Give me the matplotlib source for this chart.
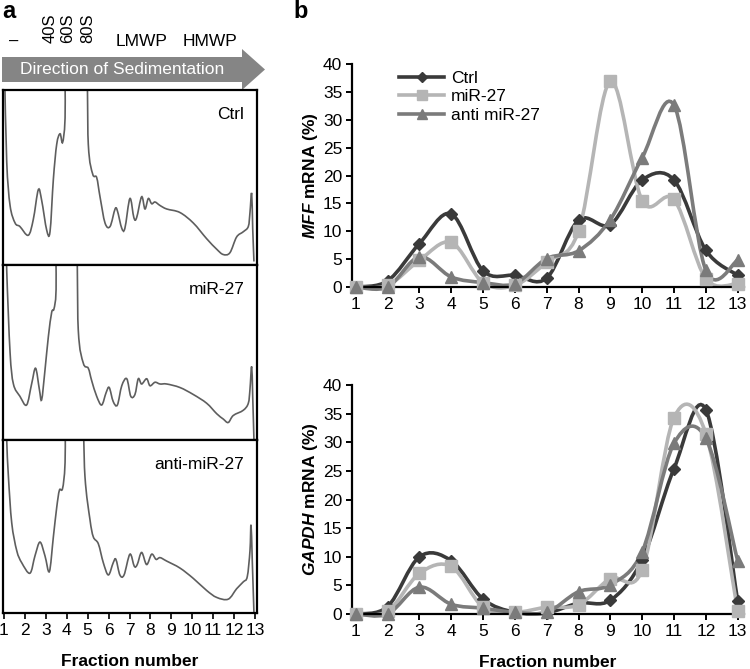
import numpy as np
import matplotlib
matplotlib.use("Agg")
import matplotlib.pyplot as plt
from matplotlib.path import Path
from matplotlib.patches import PathPatch, Polygon
from matplotlib.lines import Line2D

plt.rcParams['font.family'] = ['Liberation Sans', 'DejaVu Sans']
plt.rcParams['mathtext.fontset'] = 'custom'
plt.rcParams['mathtext.it'] = 'Liberation Sans:italic:bold'
plt.rcParams['mathtext.rm'] = 'Liberation Sans:bold'

# ---- panel a: polysome profiles (fraction position, relative absorbance) ----
ctrl_x = [1.03, 1.13, 1.29, 1.53, 1.76, 2.16, 2.40, 2.64, 2.80, 3.04, 3.20, 3.36, 3.52, 3.68, 3.80,
          3.92, 4.00, 4.87, 5.03, 5.24, 5.43, 5.59, 5.83, 6.07, 6.31, 6.42, 6.63, 6.78, 7.02, 7.21,
          7.34, 7.58, 7.74, 7.90, 8.06, 8.22, 8.46, 8.78, 9.41, 10.05, 10.69, 11.17, 11.48, 11.80,
          12.12, 12.44, 12.68, 12.76, 12.84, 12.89, 12.95]
ctrl_y = [1.10, 0.59, 0.34, 0.24, 0.22, 0.17, 0.26, 0.43, 0.37, 0.20, 0.19, 0.49, 0.69, 0.75, 0.70,
          0.84, 1.30, 1.30, 0.69, 0.52, 0.50, 0.39, 0.24, 0.22, 0.32, 0.31, 0.21, 0.21, 0.38, 0.27,
          0.27, 0.39, 0.32, 0.38, 0.35, 0.36, 0.34, 0.32, 0.30, 0.24, 0.15, 0.09, 0.06, 0.07,
          0.16, 0.19, 0.22, 0.30, 0.41, 0.21, 0.02]

mir_x = [1.10, 1.13, 1.29, 1.45, 1.76, 2.08, 2.32, 2.51, 2.69, 2.80, 2.96, 3.12, 3.28, 3.39, 3.49,
         3.55, 4.39, 4.55, 4.79, 5.03, 5.19, 5.43, 5.67, 5.88, 6.03, 6.22, 6.42, 6.63, 6.87, 7.06,
         7.26, 7.42, 7.58, 7.82, 7.98, 8.22, 8.46, 8.78, 9.41, 10.05, 10.69, 11.17, 11.48, 11.72,
         11.96, 12.44, 12.68, 12.76, 12.84, 12.89, 12.95]
mir_y = [1.20, 0.97, 0.50, 0.32, 0.25, 0.20, 0.32, 0.41, 0.29, 0.23, 0.40, 0.59, 0.73, 0.75, 0.86,
         1.30, 1.30, 0.63, 0.44, 0.41, 0.34, 0.25, 0.20, 0.27, 0.30, 0.22, 0.20, 0.31, 0.35, 0.25,
         0.26, 0.35, 0.32, 0.35, 0.31, 0.33, 0.32, 0.32, 0.30, 0.26, 0.21, 0.15, 0.12, 0.10,
         0.14, 0.17, 0.21, 0.29, 0.42, 0.25, 0.00]

anti_x = [1.10, 1.13, 1.21, 1.37, 1.61, 1.85, 2.24, 2.48, 2.72, 2.96, 3.17, 3.36, 3.52, 3.65, 3.80,
          3.92, 4.00, 4.68, 4.87, 5.11, 5.27, 5.51, 5.75, 5.99, 6.22, 6.35, 6.54, 6.74, 7.02, 7.23,
          7.37, 7.58, 7.82, 8.06, 8.27, 8.46, 8.78, 9.41, 10.05, 10.69, 11.17, 11.72, 12.12, 12.44,
          12.63, 12.76, 12.81, 12.87, 12.95]
anti_y = [1.20, 1.00, 0.79, 0.52, 0.36, 0.29, 0.23, 0.33, 0.41, 0.33, 0.24, 0.44, 0.61, 0.71, 0.72,
          0.87, 1.30, 1.30, 0.79, 0.54, 0.44, 0.40, 0.29, 0.22, 0.29, 0.31, 0.22, 0.22, 0.34, 0.27,
          0.28, 0.35, 0.28, 0.34, 0.31, 0.32, 0.30, 0.26, 0.20, 0.13, 0.09, 0.08, 0.14, 0.18,
          0.21, 0.36, 0.51, 0.30, 0.00]

profile_names = ['Ctrl', 'miR-27', 'anti-miR-27']
top_labels = ['–', '40S', '60S', '80S', 'LMWP', 'HMWP']

# ---- panel b: qPCR distribution across fractions ----
fractions = list(range(1, 14))
series_names = ['Ctrl', 'miR-27', 'anti miR-27']
mff_ctrl = [0, 1.1, 7.8, 13.1, 2.9, 2.1, 1.6, 12.0, 11.2, 19.2, 19.2, 6.6, 2.1]
mff_mir = [0, 0.3, 4.8, 8.0, 0.8, 0.3, 4.5, 10.0, 36.9, 15.5, 15.7, 1.5, 0.6]
mff_anti = [0, 0, 5.4, 1.8, 0.8, 0.6, 5.1, 6.5, 12.1, 23.2, 32.6, 3.0, 4.8]
gapdh_ctrl = [0, 1.3, 10.0, 9.3, 2.6, 0.3, 0.2, 1.9, 2.4, 9.5, 25.4, 35.7, 2.3]
gapdh_mir = [0, 0.5, 7.1, 8.3, 1.2, 0.3, 1.2, 1.6, 6.2, 7.7, 34.3, 31.5, 0.5]
gapdh_anti = [0, 0, 4.7, 1.7, 1.0, 0.3, 0.3, 3.9, 5.1, 10.9, 29.8, 30.7, 9.3]

colors = ['#3a3a3a', '#b5b5b5', '#7b7b7b']
markers = ['D', 's', '^']
msizes = [6, 8, 8]

W, H = 750, 669
fig = plt.figure(figsize=(7.5, 6.69), dpi=100)


def px_axes(left, top, right, bottom):
    return fig.add_axes([left / W, 1 - bottom / H, (right - left) / W, (bottom - top) / H])


def smooth_path(xs, ys):
    # Catmull-Rom style smoothing drawn as cubic Bezier segments through the data points
    pts = np.column_stack([xs, ys]).astype(float)
    verts = [pts[0]]
    codes = [Path.MOVETO]
    n = len(pts)
    for k in range(n - 1):
        p0 = pts[k - 1] if k > 0 else pts[k]
        p1, p2 = pts[k], pts[k + 1]
        p3 = pts[k + 2] if k + 2 < n else pts[k + 1]
        verts += [p1 + (p2 - p0) / 6, p2 - (p3 - p1) / 6, p2]
        codes += [Path.CURVE4] * 3
    return Path(verts, codes)


# overlay in pixel coordinates for decorations
deco = fig.add_axes([0, 0, 1, 1], zorder=-1)
deco.set_xlim(0, W)
deco.set_ylim(H, 0)
deco.axis('off')

deco.text(2, 11, 'a', fontsize=17, fontweight='bold', va='center', ha='left')
deco.text(293, 11, 'b', fontsize=17, fontweight='bold', va='center', ha='left')

arrow = Polygon([[2, 57], [242, 57], [242, 49], [265, 69.5], [242, 90], [242, 82], [2, 82]],
                closed=True, facecolor='#858585', edgecolor='none')
deco.add_patch(arrow)
deco.text(122, 70, 'Direction of Sedimentation', color='white', fontsize=12.5,
          ha='center', va='center')

deco.text(14, 41, top_labels[0], fontsize=12, ha='center', va='center')
for lab, x in zip(top_labels[1:4], [50, 68, 88]):
    deco.text(x, 28, lab, fontsize=12, rotation=90, ha='center', va='center')
deco.text(142, 42, top_labels[4], fontsize=12.5, ha='center', va='center')
deco.text(210, 42, top_labels[5], fontsize=12.5, ha='center', va='center')

# ---- panel a axes ----
traces = [(ctrl_x, ctrl_y), (mir_x, mir_y), (anti_x, anti_y)]
bands = [(90, 265), (265, 440), (440, 613)]
for i, ((tx, ty), (t, b), name) in enumerate(zip(traces, bands, profile_names)):
    ax = px_axes(3, t, 257, b)
    ax.add_patch(PathPatch(smooth_path(tx, ty), facecolor='none', edgecolor='#5e5e5e',
                           linewidth=1.2))
    ax.set_xlim(1 - 1 / 20.92, 13 + 2 / 20.92)
    ax.set_ylim(0, 1)
    ax.set_yticks([])
    for s in ax.spines.values():
        s.set_linewidth(1.6)
    ax.text(0.95, 0.86, name, transform=ax.transAxes, fontsize=12.5, ha='right', va='center')
    ax.set_xticks(fractions)
    if i < 2:
        ax.tick_params(axis='x', length=0, labelbottom=False)
    else:
        ax.tick_params(axis='x', direction='out', length=4, width=1.2, labelsize=12.5, pad=3)
        ax.set_xlabel('Fraction number', fontsize=12.5, fontweight='bold', labelpad=12)


def panel_b(ax, data, ylabel, xlabel=None):
    for vals, c, m, ms in zip(data, colors, markers, msizes):
        ax.add_patch(PathPatch(smooth_path(fractions, vals), facecolor='none', edgecolor=c,
                               linewidth=2.6, clip_on=False))
        ax.plot(fractions, vals, linestyle='none', marker=m, markersize=ms, color=c, clip_on=False,
                zorder=3)
    ax.set_xlim(0.88, 13.2)
    ax.set_ylim(0, 40)
    ax.set_xticks(fractions)
    ax.set_yticks(range(0, 41, 5))
    for s in ['top', 'right']:
        ax.spines[s].set_visible(False)
    for s in ['left', 'bottom']:
        ax.spines[s].set_linewidth(1.6)
    ax.tick_params(direction='out', length=4, width=1.4, labelsize=12.5, pad=3)
    ax.set_ylabel(ylabel, fontsize=12.5, fontweight='bold', labelpad=2)
    if xlabel:
        ax.set_xlabel(xlabel, fontsize=12.5, fontweight='bold', labelpad=12)


ax1 = px_axes(352, 64, 744, 287)
panel_b(ax1, [mff_ctrl, mff_mir, mff_anti], r'$\it{MFF}$ mRNA (%)')
handles = [Line2D([], [], color=c, marker=m, markersize=ms - 1, linewidth=2.6)
           for c, m, ms in zip(colors, markers, msizes)]
ax1.legend(handles, series_names, loc='upper left', bbox_to_anchor=(0.08, 1.04), frameon=False,
           fontsize=12.5, handlelength=2.6, labelspacing=0.2, handletextpad=0.4)

ax2 = px_axes(352, 385, 744, 614)
panel_b(ax2, [gapdh_ctrl, gapdh_mir, gapdh_anti], r'$\it{GAPDH}$ mRNA (%)', 'Fraction number')

fig.savefig('out.png', dpi=100)
